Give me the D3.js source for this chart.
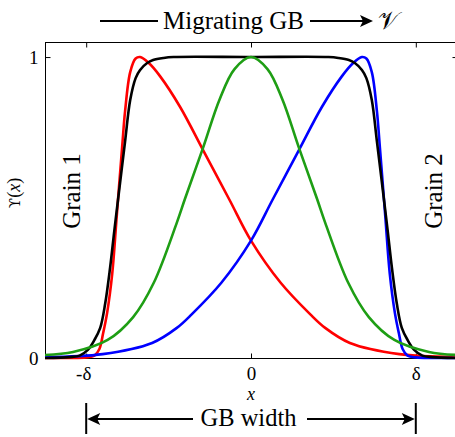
<!DOCTYPE html>
<html>
<head>
<meta charset="utf-8">
<script src="https://cdn.jsdelivr.net/npm/d3@7"></script>
<style>
  body { margin: 0; background: #fff; }
  svg { display: block; font-family: "Liberation Serif", "Times New Roman", serif; }
</style>
</head>
<body>
<svg id="chart" width="455" height="437"></svg>
<script>
// values
const redX = [-1.25, -1.1, -1.0, -0.95, -0.92, -0.897, -0.873, -0.842, -0.815, -0.782, -0.764,
    -0.733, -0.70, -0.673, -0.62, -0.55, -0.43, -0.29, -0.13, 0, 0.18, 0.36, 0.45, 0.6, 0.9, 1.25];
const redY = [0, 0, 0.002, 0.008, 0.03, 0.083, 0.15, 0.28, 0.47, 0.70, 0.82,
    0.95, 0.995, 1.0, 0.98, 0.935, 0.834, 0.69, 0.525, 0.39, 0.25, 0.145, 0.10, 0.05, 0.013, 0.003];

const blueX = [-1.25, -0.9, -0.6, -0.45, -0.36, -0.18, 0, 0.13, 0.29, 0.43, 0.55, 0.62, 0.673,
    0.70, 0.733, 0.764, 0.782, 0.815, 0.842, 0.873, 0.897, 0.92, 0.95, 1.0, 1.1, 1.25];
const blueY = [0.003, 0.013, 0.05, 0.10, 0.145, 0.25, 0.39, 0.525, 0.69, 0.834, 0.935, 0.98, 1.0,
    0.995, 0.95, 0.82, 0.70, 0.47, 0.28, 0.15, 0.083, 0.03, 0.008, 0.002, 0, 0];

const greenX = [-1.25, -1.08, -0.87, -0.715, -0.59, -0.45, -0.40, -0.29, -0.19, -0.1, 0,
    0.1, 0.19, 0.29, 0.40, 0.45, 0.59, 0.715, 0.87, 1.08, 1.25];
const greenY = [0.01, 0.02, 0.06, 0.136, 0.25, 0.45, 0.53, 0.70, 0.86, 0.96, 1.0,
    0.96, 0.86, 0.70, 0.53, 0.45, 0.25, 0.136, 0.06, 0.02, 0.01];

const blackX = [-1.25, -1.1, -1.04, -0.99, -0.95, -0.915, -0.885, -0.855, -0.83, -0.806, -0.764,
    -0.733, -0.70, -0.673, -0.63, -0.594, -0.53, -0.47, 0,
    0.47, 0.53, 0.594, 0.63, 0.673, 0.70, 0.733, 0.764, 0.806, 0.83, 0.855, 0.885, 0.915, 0.95,
    0.99, 1.04, 1.1, 1.25];
const blackY = [0, 0.003, 0.008, 0.027, 0.06, 0.10, 0.18, 0.30, 0.42, 0.53, 0.72,
    0.857, 0.93, 0.957, 0.98, 0.99, 0.997, 1.0, 1.0,
    1.0, 0.997, 0.99, 0.98, 0.957, 0.93, 0.857, 0.72, 0.53, 0.42, 0.30, 0.18, 0.10, 0.06,
    0.027, 0.008, 0.003, 0];

const xTicks = [-1, 0, 1];
const xTickLabels = ['-δ', '0', 'δ'];
const yTicks = [0, 1];
const yTickLabels = ['0', '1'];

const svg = d3.select('#chart');
const mLeft = 45, mRight = 457, mTop = 42, mBottom = 358;

const x = d3.scaleLinear().domain([-1.25, 1.25]).range([mLeft, mRight]);
const y = d3.scaleLinear().domain([0, 1.05]).range([mBottom, mTop]);

// frame
svg.append('rect')
    .attr('x', mLeft + 0.5).attr('y', mTop + 0.5)
    .attr('width', mRight - mLeft).attr('height', mBottom - mTop)
    .attr('fill', 'none').attr('stroke', '#000').attr('stroke-width', 1);

function styleAxis(g) {
    g.select('.domain').remove();
    g.selectAll('.tick line').attr('stroke', '#000');
    g.selectAll('text').attr('font-family', 'Liberation Serif, serif')
        .attr('font-size', 19).attr('fill', '#000');
}

svg.append('g')
    .attr('transform', 'translate(0,' + (mBottom + 0.5) + ')')
    .call(d3.axisBottom(x).tickValues(xTicks)
        .tickFormat(function(d, i) { return xTickLabels[i]; })
        .tickSizeInner(-5).tickSizeOuter(0))
    .call(styleAxis)
    .selectAll('text').attr('y', 21).attr('dy', 0)
    .attr('dx', function(d) { return d < 0 ? -3 : 0; });

svg.append('g')
    .attr('transform', 'translate(0,' + (mTop + 0.5) + ')')
    .call(d3.axisTop(x).tickValues(xTicks).tickFormat('')
        .tickSizeInner(-5).tickSizeOuter(0))
    .call(styleAxis);

svg.append('g')
    .attr('transform', 'translate(' + (mLeft + 0.5) + ',0)')
    .call(d3.axisLeft(y).tickValues(yTicks)
        .tickFormat(function(d, i) { return yTickLabels[i]; })
        .tickSizeInner(-5).tickSizeOuter(0).tickPadding(7))
    .call(styleAxis);

svg.append('g')
    .attr('transform', 'translate(' + (mRight + 0.5) + ',0)')
    .call(d3.axisRight(y).tickValues(yTicks).tickFormat('')
        .tickSizeInner(-5).tickSizeOuter(0))
    .call(styleAxis);

// curves
const line = d3.line()
    .x(function(d) { return x(d[0]); })
    .y(function(d) { return y(d[1]); })
    .curve(d3.curveCatmullRom.alpha(0.5));

const series = [
    {xs: redX, ys: redY, color: '#ff0000'},
    {xs: blueX, ys: blueY, color: '#0000ff'},
    {xs: blackX, ys: blackY, color: '#000000'},
    {xs: greenX, ys: greenY, color: '#1e9e14'},
];

svg.append('g')
    .selectAll('path')
    .data(series)
    .enter().append('path')
    .attr('d', function(s) { return line(d3.zip(s.xs, s.ys)); })
    .attr('fill', 'none')
    .attr('stroke', function(s) { return s.color; })
    .attr('stroke-width', 2.6)
    .attr('stroke-linejoin', 'round');

// labels
svg.append('text')
    .attr('x', x(0)).attr('y', 400)
    .attr('text-anchor', 'middle')
    .attr('font-size', 18).attr('font-style', 'italic')
    .text('x');

let yl = svg.append('text')
    .attr('transform', 'translate(20,193) rotate(-90)')
    .attr('text-anchor', 'middle')
    .attr('font-size', 18);
yl.append('tspan').attr('font-family', 'DejaVu Serif, serif').attr('font-size', 15).text('ϒ');
yl.append('tspan').text('(');
yl.append('tspan').attr('font-style', 'italic').text('x');
yl.append('tspan').text(')');

svg.append('text')
    .attr('transform', 'translate(80,191) rotate(-90)')
    .attr('text-anchor', 'middle')
    .attr('font-size', 25)
    .text('Grain 1');

svg.append('text')
    .attr('transform', 'translate(442,191) rotate(-90)')
    .attr('text-anchor', 'middle')
    .attr('font-size', 25)
    .text('Grain 2');

// title with arrow
function arrowHead(tipX, tipY, dir) {
    let b = tipX - dir * 13;
    return 'M' + tipX + ',' + tipY + 'L' + b + ',' + (tipY - 6) +
        'L' + (b + dir * 3) + ',' + tipY + 'L' + b + ',' + (tipY + 6) + 'Z';
}

svg.append('line')
    .attr('x1', 100).attr('x2', 158).attr('y1', 21).attr('y2', 21)
    .attr('stroke', '#000').attr('stroke-width', 2);
svg.append('text')
    .attr('x', 233.5).attr('y', 29)
    .attr('text-anchor', 'middle').attr('font-size', 25)
    .text('Migrating GB');
svg.append('line')
    .attr('x1', 310).attr('x2', 364).attr('y1', 21).attr('y2', 21)
    .attr('stroke', '#000').attr('stroke-width', 2);
svg.append('path').attr('d', arrowHead(373, 21, 1)).attr('fill', '#000');
svg.append('text')
    .attr('x', 388).attr('y', 29)
    .attr('text-anchor', 'middle').attr('font-size', 25)
    .text('𝒱');

// GB width indicator
const gbY = 419;
[x(-1), x(1)].forEach(function(px) {
    svg.append('line')
        .attr('x1', px).attr('x2', px).attr('y1', 403).attr('y2', 434)
        .attr('stroke', '#000').attr('stroke-width', 2);
});
svg.append('line')
    .attr('x1', x(-1) + 10).attr('x2', 193).attr('y1', gbY).attr('y2', gbY)
    .attr('stroke', '#000').attr('stroke-width', 2);
svg.append('path').attr('d', arrowHead(x(-1) + 1, gbY, -1)).attr('fill', '#000');
svg.append('line')
    .attr('x1', 307).attr('x2', x(1) - 10).attr('y1', gbY).attr('y2', gbY)
    .attr('stroke', '#000').attr('stroke-width', 2);
svg.append('path').attr('d', arrowHead(x(1) - 1, gbY, 1)).attr('fill', '#000');
svg.append('text')
    .attr('x', 248.5).attr('y', 426)
    .attr('text-anchor', 'middle').attr('font-size', 24.5)
    .text('GB width');
</script>
</body>
</html>
